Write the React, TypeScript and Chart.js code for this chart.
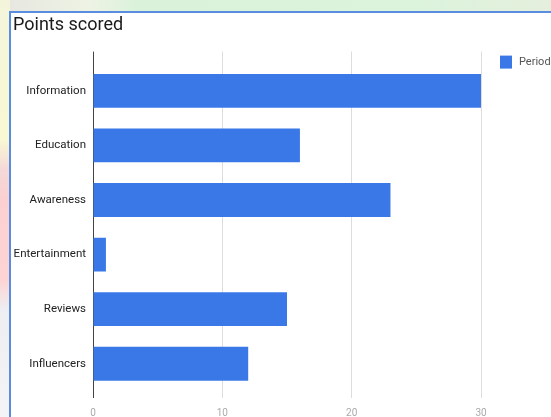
import React, { useEffect, useRef } from "react";
import { Chart, registerables } from "chart.js";

Chart.register(...registerables);

const titleText = "Points scored";
const seriesLabel = "Period";
const categories = ["Information", "Education", "Awareness", "Entertainment", "Reviews", "Influencers"];
const values = [30, 16, 23, 1, 15, 12];
const xTicks = [0, 10, 20, 30];

const BAR_COLOR = "#3b78e7";

const gridExtend = {
  id: "gridExtend",
  beforeDatasetsDraw(chart: any) {
    const { ctx, chartArea, scales } = chart;
    const xs = scales.x;
    ctx.save();
    ctx.lineWidth = 1;
    xs.ticks.forEach((t: any) => {
      const px = Math.round(xs.getPixelForValue(t.value) - 0.5) + 0.5;
      ctx.strokeStyle = t.value === 0 ? "#444444" : "#dddddd";
      ctx.beginPath();
      ctx.moveTo(px, chartArea.top - 12);
      ctx.lineTo(px, chartArea.top);
      ctx.stroke();
    });
    ctx.restore();
  },
};

const sideLegend = {
  id: "sideLegend",
  afterDraw(chart: any) {
    const { ctx, chartArea } = chart;
    const ds = chart.data.datasets[0];
    const bx = chartArea.right + 19;
    const by = chartArea.top - 8;
    ctx.save();
    ctx.fillStyle = ds.backgroundColor;
    ctx.fillRect(bx, by, 12, 13);
    ctx.fillStyle = "#555555";
    ctx.font = "11px Roboto";
    ctx.textBaseline = "middle";
    ctx.textAlign = "left";
    ctx.fillText(ds.label, bx + 19, by + 6.5);
    ctx.restore();
  },
};

export default function App() {
  const ref = useRef<HTMLCanvasElement>(null);

  useEffect(() => {
    const chart = new Chart(ref.current!, {
      type: "bar",
      data: {
        labels: categories,
        datasets: [
          {
            label: seriesLabel,
            data: values,
            backgroundColor: BAR_COLOR,
            borderWidth: 0,
            barPercentage: 0.62,
            categoryPercentage: 1,
          },
        ],
      },
      options: {
        indexAxis: "y",
        animation: false,
        responsive: false,
        maintainAspectRatio: false,
        layout: { padding: { left: 13, right: 70, top: 0, bottom: 0 } },
        plugins: {
          legend: { display: false },
          tooltip: { enabled: false },
          title: {
            display: true,
            text: titleText,
            align: "start",
            color: "#1a1a1a",
            font: { family: "Roboto", size: 18, weight: "normal" },
            padding: { top: 15, bottom: 27 },
          },
        },
        scales: {
          x: {
            type: "linear",
            min: 0,
            max: 30,
            afterBuildTicks(scale: any) {
              scale.ticks = xTicks.map((v) => ({ value: v }));
            },
            afterFit(scale: any) {
              scale.height = 26;
            },
            grid: {
              color: (c: any) => (c.tick && c.tick.value === 0 ? "#444444" : "#dddddd"),
              drawTicks: true,
              tickLength: 7,
              lineWidth: 1,
            },
            border: { display: false },
            ticks: {
              color: "#aaaaaa",
              font: { family: "Roboto", size: 10 },
              padding: 9,
            },
          },
          y: {
            afterFit(scale: any) {
              scale.width = 80;
            },
            grid: { display: false, drawTicks: false },
            border: { display: true, color: "#444444", width: 1 },
            ticks: {
              color: "#222222",
              font: { family: "Roboto", size: 11.5 },
              padding: 7,
            },
          },
        },
      },
      plugins: [gridExtend, sideLegend],
    });
    return () => chart.destroy();
  }, []);

  return (
    <div
      style={{
        position: "fixed",
        left: 0,
        top: 0,
        width: 551,
        height: 417,
        overflow: "hidden",
        background: "#f4f6ee",
      }}
    >
      <div
        style={{
          position: "absolute",
          left: 0,
          top: 0,
          width: 551,
          height: 12,
          background: "linear-gradient(to right, #e6e6e0 0px, #eef3e4 90px, #d9f2d9 140px, #dcf3dc 420px, #e4efdc 551px)",
        }}
      />
      <div
        style={{
          position: "absolute",
          left: 0,
          top: 0,
          width: 10,
          height: 417,
          background:
            "linear-gradient(to bottom, #f4f4dc 0px, #f8f8d4 140px, #f4d8d8 170px, #fcd0d0 200px, #fcd4d4 280px, #eeeef2 310px, #f4f4f6 417px)",
        }}
      />
      <div
        style={{
          position: "absolute",
          left: 9,
          top: 11,
          width: 560,
          height: 420,
          border: "2px solid #5a8de0",
          background: "#ffffff",
          boxSizing: "border-box",
        }}
      />
      <canvas
        ref={ref}
        width={551}
        height={417}
        style={{ position: "absolute", left: 0, top: 0, width: 551, height: 417 }}
      />
    </div>
  );
}
